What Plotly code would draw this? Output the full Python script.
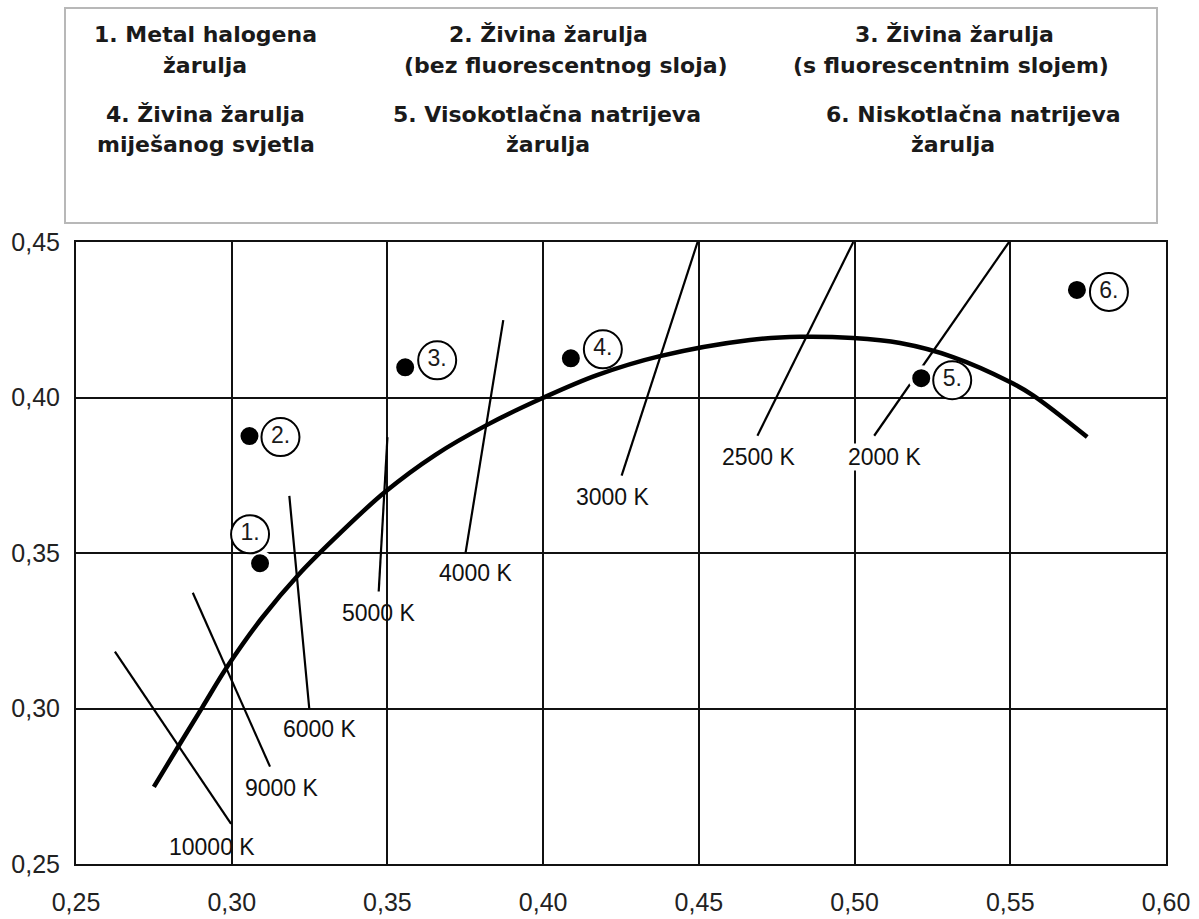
import plotly.graph_objects as go

# ---------------- data ----------------
# Planckian locus
locus_x = [0.2750, 0.2828, 0.2905, 0.2988, 0.3097, 0.3216, 0.3348, 0.3492, 0.3653, 0.3820, 0.4000,
           0.4173, 0.4375, 0.4664, 0.4825, 0.4995, 0.5146, 0.5316, 0.5499, 0.5573, 0.5747]
locus_y = [0.2748, 0.2877, 0.3003, 0.3138, 0.3291, 0.3432, 0.3564, 0.3696, 0.3815, 0.3912, 0.3999,
           0.4072, 0.4133, 0.4185, 0.4195, 0.4191, 0.4175, 0.4130, 0.4050, 0.4007, 0.3873]

# isotherm lines: (x_start, y_start, x_end, y_end)
iso_names = ["10000 K", "9000 K", "6000 K", "5000 K", "4000 K", "3000 K", "2500 K", "2000 K"]
iso_x0 = [0.2625, 0.2875, 0.3185, 0.3500, 0.3872, 0.4496, 0.4996, 0.5496]
iso_y0 = [0.3183, 0.3372, 0.3684, 0.3872, 0.4249, 0.4500, 0.4500, 0.4500]
iso_x1 = [0.2998, 0.3123, 0.3249, 0.3472, 0.3751, 0.4252, 0.4688, 0.5063]
iso_y1 = [0.2629, 0.2813, 0.3000, 0.3376, 0.3501, 0.3749, 0.3877, 0.3877]
# isotherm label positions
iso_lx = [0.2937, 0.3163, 0.3284, 0.3473, 0.3785, 0.4224, 0.4692, 0.5098]
iso_ly = [0.2555, 0.2744, 0.2934, 0.3307, 0.3436, 0.3681, 0.3810, 0.3810]

# lamps
lamp_labels = ["1.", "2.", "3.", "4.", "5.", "6."]
lamp_x = [0.3091, 0.3057, 0.3557, 0.4089, 0.5214, 0.5714]
lamp_y = [0.3467, 0.3876, 0.4097, 0.4126, 0.4062, 0.4346]
# label circle offsets from the dot, in pixels (right, down)
lab_dx = [-10, 31, 32, 32, 31, 32]
lab_dy = [-29, 1, -7, -9, 2, 2]

legend_lines = [
    ["1. Metal halogena", "žarulja", "4. Živina žarulja", "miješanog svjetla"],
    ["2. Živina žarulja", "(bez fluorescentnog sloja)", "5. Visokotlačna natrijeva", "žarulja"],
    ["3. Živina žarulja", "(s fluorescentnim slojem)", "6. Niskotlačna natrijeva", "žarulja"],
]
legend_cx = [
    [205.8, 204.7, 205.0, 205.8],
    [548.3, 566.0, 547.0, 548.0],
    [954.0, 951.0, 973.0, 953.0],
]
legend_cy = [34, 66, 114, 145]

x_ticks = [0.25, 0.30, 0.35, 0.40, 0.45, 0.50, 0.55, 0.60]
y_ticks = [0.25, 0.30, 0.35, 0.40, 0.45]

# ---------------- layout geometry ----------------
W, H = 1199, 919
ML, MR, MT, MB = 76, 33, 242, 55
PW, PH = W - ML - MR, H - MT - MB
XR = [0.25, 0.60]
YR = [0.25, 0.45]
sx = PW / (XR[1] - XR[0])
sy = PH / (YR[1] - YR[0])

def px_x(p):
    return (p - ML) / PW

def px_y(p):
    return (H - MB - p) / PH

fig = go.Figure()

fig.add_trace(go.Scatter(x=locus_x, y=locus_y, mode="lines",
                         line=dict(color="black", width=4.5, shape="spline", smoothing=1.0),
                         hoverinfo="skip", showlegend=False))

for i in range(len(iso_names)):
    fig.add_trace(go.Scatter(x=[iso_x0[i], iso_x1[i]], y=[iso_y0[i], iso_y1[i]], mode="lines",
                             line=dict(color="black", width=2.2),
                             hoverinfo="skip", showlegend=False))

fig.add_trace(go.Scatter(x=lamp_x, y=lamp_y, mode="markers",
                         marker=dict(size=22, color="black", line=dict(color="white", width=4)),
                         hoverinfo="skip", showlegend=False))

lab_x = [lamp_x[i] + lab_dx[i] / sx for i in range(len(lamp_x))]
lab_y = [lamp_y[i] - lab_dy[i] / sy for i in range(len(lamp_y))]
fig.add_trace(go.Scatter(x=lab_x, y=lab_y, mode="markers+text", text=lamp_labels,
                         textposition="middle center",
                         textfont=dict(family="Liberation Sans, Arial", size=23, color="#1a1a1a"),
                         marker=dict(size=38, color="white", line=dict(color="black", width=2)),
                         hoverinfo="skip", showlegend=False))

annotations = []
for i in range(len(iso_names)):
    annotations.append(dict(x=iso_lx[i], y=iso_ly[i], xref="x", yref="y", text=iso_names[i],
                            showarrow=False, xanchor="center", yanchor="middle",
                            bgcolor="white" if iso_names[i] == "2000 K" else "rgba(0,0,0,0)",
                            font=dict(family="Liberation Sans, Arial", size=23, color="#111111"),
                            borderpad=0))

for c in range(3):
    for r in range(4):
        annotations.append(dict(x=px_x(legend_cx[c][r]), y=px_y(legend_cy[r]), xref="paper", yref="paper",
                                text="<b>%s</b>" % legend_lines[c][r], showarrow=False,
                                xanchor="center", yanchor="middle",
                                font=dict(family="DejaVu Sans", size=22, color="#1a1a1a")))

shapes = [dict(type="rect", xref="paper", yref="paper",
               x0=px_x(65), x1=px_x(1157), y0=px_y(223), y1=px_y(8),
               line=dict(color="#b8b8b8", width=2), fillcolor="rgba(0,0,0,0)", layer="below")]

axis_common = dict(showgrid=True, gridcolor="#111111", gridwidth=1.5,
                   showline=True, linecolor="#111111", linewidth=2, mirror=True,
                   zeroline=False, ticks="", tickformat=".2f", automargin=False,
                   tickfont=dict(family="Liberation Sans, Arial", size=25, color="#222222"))

fig.update_layout(
    width=W, height=H,
    margin=dict(l=ML, r=MR, t=MT, b=MB, pad=0, autoexpand=False),
    paper_bgcolor="white", plot_bgcolor="white",
    separators=", ",
    xaxis=dict(range=XR, tickvals=x_ticks, ticklabelstandoff=15, **axis_common),
    yaxis=dict(range=YR, tickvals=y_ticks, ticklabelstandoff=9, **axis_common),
    annotations=annotations,
    shapes=shapes,
    showlegend=False,
)

fig.write_html("out.html", config={"displayModeBar": False},
               post_script="document.body.style.margin='0px';document.body.style.padding='0px';")
